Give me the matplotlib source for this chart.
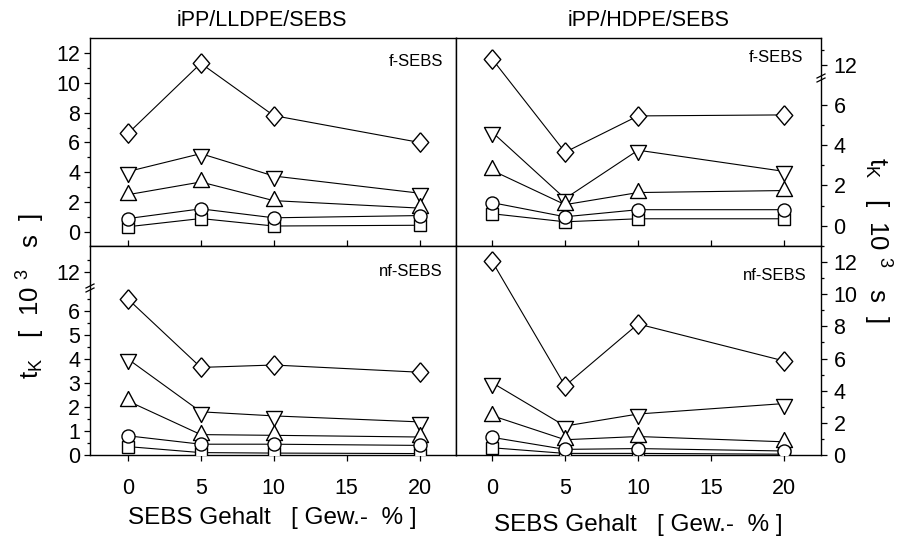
import numpy as np
import matplotlib
matplotlib.use('Agg')
import matplotlib.pyplot as plt
from matplotlib.lines import Line2D

plt.rcParams['font.family'] = ['Liberation Sans', 'DejaVu Sans']
plt.rcParams['mathtext.default'] = 'regular'

# SEBS content [wt-%]
sebs = [0, 5, 10, 20]

# iPP/LLDPE/SEBS, f-SEBS  (t_K in 10^3 s)
ll_f_dia = [6.6, 11.3, 7.8, 6.0]
ll_f_down = [4.05, 5.25, 3.75, 2.6]
ll_f_up = [2.5, 3.35, 2.1, 1.6]
ll_f_circ = [0.9, 1.55, 0.95, 1.1]
ll_f_sq = [0.35, 0.9, 0.4, 0.45]

# iPP/HDPE/SEBS, f-SEBS
hd_f_dia = [12.4, 3.65, 5.45, 5.5]
hd_f_down = [4.65, 1.35, 3.75, 2.7]
hd_f_up = [2.75, 1.05, 1.65, 1.75]
hd_f_circ = [1.15, 0.45, 0.8, 0.8]
hd_f_sq = [0.6, 0.2, 0.35, 0.35]

# iPP/LLDPE/SEBS, nf-SEBS
ll_nf_dia = [6.5, 3.65, 3.75, 3.45]
ll_nf_down = [4.0, 1.8, 1.63, 1.38]
ll_nf_up = [2.25, 0.85, 0.82, 0.75]
ll_nf_circ = [0.8, 0.45, 0.45, 0.4]
ll_nf_sq = [0.35, 0.1, 0.08, 0.06]

# iPP/HDPE/SEBS, nf-SEBS
hd_nf_dia = [12.05, 4.3, 8.15, 5.85]
hd_nf_down = [4.5, 1.8, 2.55, 3.2]
hd_nf_up = [2.45, 0.95, 1.15, 0.82]
hd_nf_circ = [1.1, 0.35, 0.4, 0.25]
hd_nf_sq = [0.45, 0.1, 0.1, 0.05]

W, H = 897, 541

# open markers, triangles centred on their centroid
diamond = [(0, 1), (0.85, 0), (0, -1), (-0.85, 0), (0, 1)]
tri_up = [(0, 1), (0.8, -0.5), (-0.8, -0.5), (0, 1)]
tri_down = [(0, -1), (0.8, 0.5), (-0.8, 0.5), (0, -1)]
markers = [(diamond, 14), (tri_down, 14.4), (tri_up, 14.4), ('s', 8.8), ('o', 9.4)]


def broken(b, c, k):
    # linear up to b, gap, then compressed scale starting at data value c
    def fwd(v):
        v = np.asarray(v, dtype=float)
        return np.where(v <= b, v, b + np.clip(v - c, 0, None) * k)

    def inv(d):
        d = np.asarray(d, dtype=float)
        return np.where(d <= b, d, c + (d - b) / k)
    return fwd, inv


def draw(ax, series):
    for vals in series:
        ax.plot(sebs, vals, '-', color='black', lw=0.8, zorder=2)
    for vals, (m, ms) in zip(series, markers):
        ax.plot(sebs, vals, ls='none', marker=m, ms=ms, mfc='white',
                mec='black', mew=1.0, zorder=3)


def fpos(x0, y0, x1, y1):
    return [x0 / W, 1 - y1 / H, (x1 - x0) / W, (y1 - y0) / H]


fig = plt.figure(figsize=(W / 100, H / 100), dpi=100)
ax_tl = fig.add_axes(fpos(90, 38, 456, 246))
ax_tr = fig.add_axes(fpos(456, 38, 821, 246))
ax_bl = fig.add_axes(fpos(90, 246, 456, 455))
ax_br = fig.add_axes(fpos(456, 246, 821, 455))

draw(ax_tl, [ll_f_dia, ll_f_down, ll_f_up, ll_f_sq, ll_f_circ])
draw(ax_tr, [hd_f_dia, hd_f_down, hd_f_up, hd_f_sq, hd_f_circ])
draw(ax_bl, [ll_nf_dia, ll_nf_down, ll_nf_up, ll_nf_sq, ll_nf_circ])
draw(ax_br, [hd_nf_dia, hd_nf_down, hd_nf_up, hd_nf_sq, hd_nf_circ])

ax_tr.set_yscale('function', functions=broken(7.33, 11.12, 0.74))
ax_bl.set_yscale('function', functions=broken(6.96, 10.66, 0.5))

ax_tl.set_ylim(-0.94, 13.0)
ax_tr.set_ylim(-0.94, 13.8)
ax_bl.set_ylim(0, 14.16)
ax_br.set_ylim(0, 13.0)

for ax in (ax_tl, ax_bl):
    ax.set_xlim(-2.6, 22.5)
for ax in (ax_tr, ax_br):
    ax.set_xlim(-2.47, 22.53)

xt = [0, 5, 10, 15, 20]
for ax in (ax_tl, ax_tr, ax_bl, ax_br):
    ax.set_xticks(xt)
    ax.xaxis.set_minor_locator(plt.NullLocator())
    for s in ax.spines.values():
        s.set_linewidth(1.0)

for ax in (ax_tl, ax_tr):
    ax.tick_params(axis='x', direction='in', length=4, width=0.9, labelbottom=False)
for ax in (ax_bl, ax_br):
    ax.tick_params(axis='x', direction='out', length=4, width=0.9, pad=12.5, labelsize=15.5)

# y ticks
ax_tl.set_yticks([0, 2, 4, 6, 8, 10, 12])
ax_tl.set_yticks([1, 3, 5, 7, 9, 11], minor=True)
ax_tr.set_yticks([0, 2, 4, 6, 12])
ax_tr.set_yticks([-1, 1, 3, 5, 13], minor=True)
ax_bl.set_yticks([0, 1, 2, 3, 4, 5, 6, 12])
ax_bl.set_yticks([0.5, 1.5, 2.5, 3.5, 4.5, 5.5, 6.5, 13], minor=True)
ax_br.set_yticks([0, 2, 4, 6, 8, 10, 12])
ax_br.set_yticks([1, 3, 5, 7, 9, 11], minor=True)
for ax in (ax_tl, ax_tr, ax_bl, ax_br):
    ax.set_yticklabels([f'{t:g}' for t in ax.get_yticks()])

for ax in (ax_tl, ax_bl):
    ax.tick_params(axis='y', which='major', direction='out', length=4, width=0.9,
                   pad=3.2, labelsize=15.5)
    ax.tick_params(axis='y', which='minor', direction='out', length=2.5, width=0.9)
for ax in (ax_tr, ax_br):
    ax.yaxis.tick_right()
    ax.tick_params(axis='y', which='major', direction='out', length=4, width=0.9,
                   pad=5, labelsize=15.5)
    ax.tick_params(axis='y', which='minor', direction='out', length=2.5, width=0.9)


def ftext(x, y, s, **kw):
    fig.text(x / W, 1 - y / H, s, **kw)


# panel labels
ftext(443, 62, 'f-SEBS', ha='right', va='center', fontsize=12)
ftext(803, 58, 'f-SEBS', ha='right', va='center', fontsize=12)
ftext(443, 272, 'nf-SEBS', ha='right', va='center', fontsize=12)
ftext(807, 275, 'nf-SEBS', ha='right', va='center', fontsize=12)

# titles
ftext(262, 21, 'iPP/LLDPE/SEBS', ha='center', va='center', fontsize=15.5)
ftext(649, 21, 'iPP/HDPE/SEBS', ha='center', va='center', fontsize=15.5)

# axis labels
xlab = 'SEBS Gehalt   [ Gew.-  % ]'
ftext(272, 518, xlab, ha='center', va='center', fontsize=17.5)
ftext(638, 525, xlab, ha='center', va='center', fontsize=17.5)
ylab = '$t_K$   [  10 $^3$   s  ]'
ftext(31, 296, ylab, ha='center', va='center', rotation=90, fontsize=18.5)
ftext(877, 240, ylab, ha='center', va='center', rotation=-90, fontsize=18.5)

# axis break marks
for bx, by in [(821, 78), (90, 288)]:
    for dy in (-2, 2):
        fig.add_artist(Line2D([(bx - 4) / W, (bx + 4) / W],
                              [1 - (by + dy + 2) / H, 1 - (by + dy - 2) / H],
                              color='black', lw=0.9))

fig.savefig('out.png', dpi=100)
